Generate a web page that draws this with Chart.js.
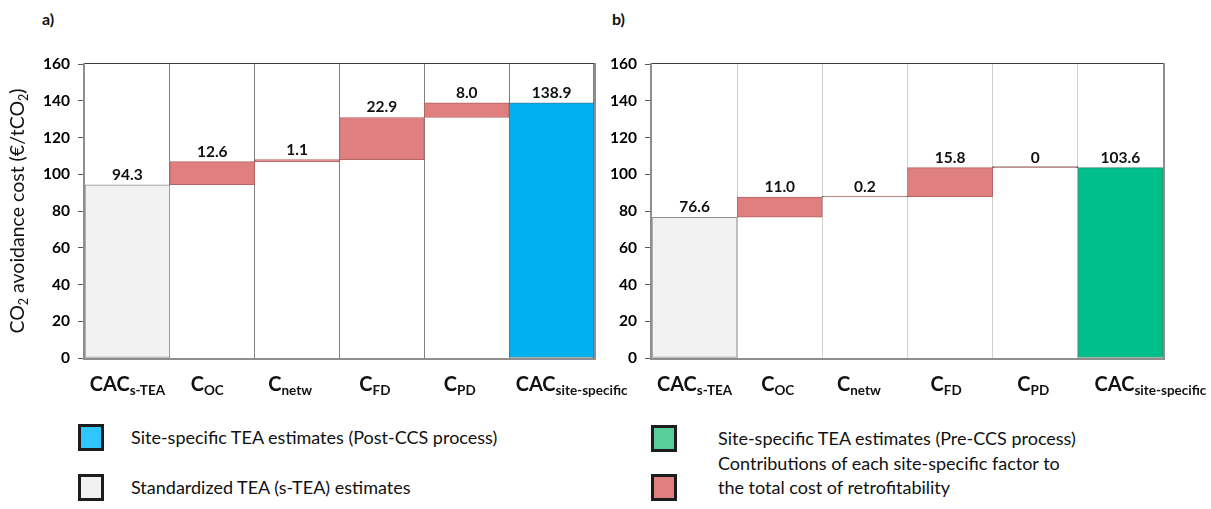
<!DOCTYPE html>
<html>
<head>
<meta charset="utf-8">
<script src="https://cdn.jsdelivr.net/npm/chart.js@4.4.1/dist/chart.umd.min.js"></script>
<style>
  body { margin:0; background:#fff; width:1211px; height:509px; overflow:hidden; position:relative; font-family: Lato, "Open Sans", sans-serif; color:#111; }
  canvas { position:absolute; top:0; }
  #cA { left:0; }
  #cB { left:600px; }
  .tag { position:absolute; top:9px; font-weight:bold; font-size:16px; color:#111; }
  .sw { position:absolute; width:20px; height:21px; border:3px solid #1c1c1c; }
  .lt { position:absolute; font-size:18px; line-height:24px; color:#111; white-space:nowrap; }
</style>
</head>
<body>
<div class="tag" style="left:42px">a)</div>
<div class="tag" style="left:612px">b)</div>
<canvas id="cA" width="640" height="400"></canvas>
<canvas id="cB" width="611" height="400"></canvas>

<div class="sw" style="left:78px; top:424px; background:#2ec6fc"></div>
<div class="lt" style="left:131px; top:425px">Site-specific TEA estimates (Post-CCS process)</div>
<div class="sw" style="left:78px; top:474px; background:#f0f0f0"></div>
<div class="lt" style="left:131px; top:475px">Standardized TEA (s-TEA) estimates</div>

<div class="sw" style="left:651px; top:425px; background:#58cf9a"></div>
<div class="lt" style="left:718px; top:426px">Site-specific TEA estimates (Pre-CCS process)</div>
<div class="sw" style="left:651px; top:474px; background:#e07f7f"></div>
<div class="lt" style="left:718px; top:451px">Contributions of each site-specific factor to<br>the total cost of retrofitability</div>

<script>
// Category labels: [main text, subscript]
const categories = [['CAC', 's-TEA'], ['C', 'OC'], ['C', 'netw'], ['C', 'FD'], ['C', 'PD'], ['CAC', 'site-specific']];
const yTicks = [0, 20, 40, 60, 80, 100, 120, 140, 160];

// Post-CCS process (panel a): s-TEA base, factor contributions, site-specific total
const postBase = 94.3;
const postSteps = [12.6, 1.1, 22.9, 8.0];
const postTotal = 138.9;

// Pre-CCS process (panel b)
const preBase = 76.6;
const preSteps = [11.0, 0.2, 15.8, 0];
const preTotal = 103.6;

// horizontal shift of each category label, in px (panel a / panel b)
const labelNudgeA = [0, -5, -7, -7, -7, 20];
const labelNudgeB = [0, -2, -6, -4, -2, 30];

const FONT = 'Lato, "Open Sans", sans-serif';
const GREY = '#f2f2f2', GREY_B = '#8c8c8c';
const RED = '#e07f7f', RED_B = '#b26565', THIN_B = '#4a4a4a';

// Floating [low, high] ranges for a waterfall
function waterfall(base, steps, total) {
  const ranges = [[0, base]];
  let acc = base;
  steps.forEach(s => { ranges.push([acc, acc + s]); acc += s; });
  ranges.push([0, total]);
  return ranges;
}
function labelsOf(base, steps, total) {
  return [base, ...steps, total].map(v => v === 0 ? '0' : v.toFixed(1));
}

// Text with a subscript part
function subText(ctx, main, sub, mainFont, subFont, subShift) {
  ctx.font = mainFont;
  const w1 = ctx.measureText(main).width;
  ctx.font = subFont;
  const w2 = ctx.measureText(sub).width;
  return { w: w1 + w2, draw(x, y) {
    ctx.font = mainFont; ctx.fillText(main, x, y);
    ctx.font = subFont; ctx.fillText(sub, x + w1, y + subShift);
  }};
}

const decor = {
  id: 'decor',
  afterDatasetsDraw(chart, args, opts) {
    const ctx = chart.ctx, a = chart.chartArea;
    const xs = chart.scales.x, ys = chart.scales.y;
    ctx.save();
    // frame
    ctx.fillStyle = '#3c3c3c';
    ctx.fillRect(a.left - 2, a.top - 1, a.right - a.left + 4, 1);
    ctx.fillStyle = '#8e8e8e';
    ctx.fillRect(a.right, a.top - 1, 2, a.bottom - a.top + 2);
    ctx.fillRect(a.left - 2, a.top - 1, 2, a.bottom - a.top + 3);
    ctx.fillRect(a.left - 2, a.bottom, a.right - a.left + 4, 2);

    // value labels above each bar
    const ranges = chart.data.datasets[0].data;
    ctx.fillStyle = '#111';
    ctx.font = 'bold 15.5px ' + FONT;
    ctx.textAlign = 'center';
    ctx.textBaseline = 'middle';
    ranges.forEach((r, i) => {
      ctx.fillText(opts.values[i], xs.getPixelForValue(i), ys.getPixelForValue(r[1]) - 10);
    });

    // category labels with subscripts
    ctx.textAlign = 'left';
    ctx.textBaseline = 'alphabetic';
    categories.forEach((c, i) => {
      const t = subText(ctx, c[0], c[1], 'bold 20px ' + FONT, 'bold 13.5px ' + FONT, 4);
      t.draw(xs.getPixelForValue(i) - t.w / 2 + opts.nudge[i], a.bottom + 33);
    });

    // rotated y-axis title
    if (opts.title) {
      ctx.save();
      ctx.translate(24, (a.top + a.bottom) / 2);
      ctx.rotate(-Math.PI / 2);
      const parts = [['CO', false], ['2', true], [' avoidance cost (€/tCO', false], ['2', true], [')', false]];
      const fMain = '19.5px ' + FONT, fSub = '12.5px ' + FONT;
      let total = 0;
      parts.forEach(p => { ctx.font = p[1] ? fSub : fMain; total += ctx.measureText(p[0]).width; });
      let x = -total / 2;
      parts.forEach(p => {
        ctx.font = p[1] ? fSub : fMain;
        ctx.fillText(p[0], x, p[1] ? 4 : 0);
        x += ctx.measureText(p[0]).width;
      });
      ctx.restore();
    }
    ctx.restore();
  }
};

function makeChart(id, base, steps, total, totalColor, totalBorder, gridColor, axisWidth, padRight, withTitle, nudge) {
  const colors = [GREY, RED, RED, RED, RED, totalColor];
  const borders = [GREY_B, ...steps.map(s => s < 0.5 ? THIN_B : RED_B), totalBorder];
  return new Chart(document.getElementById(id), {
    type: 'bar',
    data: {
      labels: categories.map(c => c[0] + c[1]),
      datasets: [{
        data: waterfall(base, steps, total),
        backgroundColor: colors,
        borderColor: borders,
        borderWidth: 1,
        borderSkipped: false,
        minBarLength: 1,
        categoryPercentage: 1,
        barPercentage: 1
      }]
    },
    options: {
      responsive: false,
      animation: false,
      layout: { padding: { left: 0, right: padRight, top: 64, bottom: 0 } },
      plugins: {
        legend: { display: false },
        tooltip: { enabled: false },
        decor: { values: labelsOf(base, steps, total), title: withTitle, nudge: nudge }
      },
      scales: {
        x: {
          grid: { offset: true, color: gridColor, lineWidth: 1, drawTicks: false },
          border: { display: false },
          ticks: { display: false },
          afterFit(s) { s.height = 42; }
        },
        y: {
          min: 0, max: 160,
          afterBuildTicks(s) { s.ticks = yTicks.map(v => ({ value: v })); },
          grid: { drawOnChartArea: false, drawTicks: true, tickLength: 7, tickColor: '#5a5a5a' },
          border: { display: false },
          ticks: { color: '#000', padding: 8, font: { family: FONT, size: 15.5, weight: 'bold' } },
          afterFit(s) { s.width = axisWidth; }
        }
      }
    },
    plugins: [decor]
  });
}

makeChart('cA', postBase, postSteps, postTotal, '#00b0f0', '#3f7d99', '#808080', 85, 46, true, labelNudgeA);
makeChart('cB', preBase, preSteps, preTotal, '#00bf8a', '#3a8a6c', '#d0d0d0', 52, 48, false, labelNudgeB);
</script>
</body>
</html>
